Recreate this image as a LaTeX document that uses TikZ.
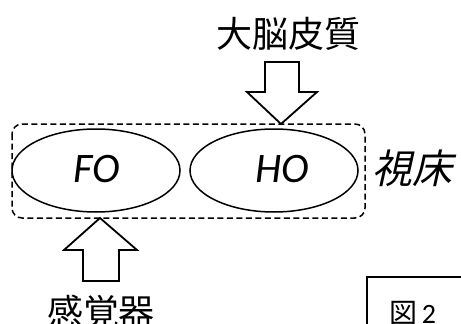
\documentclass[tikz,border=0pt]{standalone}
\usepackage{fontspec}
\setmainfont{Carlito}
\newfontfamily\jp{Noto Sans CJK JP}
\newfontfamily\jpsl[FakeSlant=0.22]{Noto Sans CJK JP}
\begin{document}
\begin{tikzpicture}[x=1pt,y=-1pt,
  oval/.style={draw, line width=1.5pt},
  group/.style={draw, dashed, dash pattern=on 6pt off 3.5pt, line width=1.5pt, rounded corners=10pt},
  blockarrow/.style={draw, line width=1.8pt, fill=white, line join=miter},
  lbl/.style={inner sep=0pt, font=\fontsize{42}{42}\selectfont\itshape},
  jplbl/.style={inner sep=0pt, font=\fontsize{36}{36}\selectfont\jp}]
\useasboundingbox (0,0) rectangle (461,324);
\clip (0,0) rectangle (461,324);
% group box
\draw[group] (12,124) rectangle (365,218);
% ellipses
\draw[oval] (96,170.5) ellipse [x radius=84, y radius=41.5];
\draw[oval] (274,170.5) ellipse [x radius=84, y radius=41.5];
\node[lbl, anchor=base] (fo) at (97,182) {FO};
\node[lbl, anchor=base] (ho) at (282,182) {HO};
\node[inner sep=0pt, anchor=base west, font=\fontsize{40}{40}\selectfont\jpsl] (thal) at (372,183) {視床};
% top arrow
\draw[blockarrow] (265,62) -- (299,62) -- (299,92) -- (317,92) -- (281,124) -- (247,92) -- (265,92) -- cycle;
\node[jplbl, anchor=base] (cortex) at (288,47) {大脳皮質};
% bottom arrow
\draw[blockarrow] (83,281) -- (119,281) -- (119,250) -- (137,250) -- (100,218) -- (64,250) -- (83,250) -- cycle;
\node[jplbl, anchor=base] (sense) at (101,325) {感覚器};
% figure label box
\draw[line width=1.5pt] (367,277) rectangle (480,340);
\node[inner sep=0pt, anchor=base west, font=\fontsize{28}{28}\selectfont] (fig) at (389,323) {{\jp 図}\,2};
\end{tikzpicture}
\end{document}
